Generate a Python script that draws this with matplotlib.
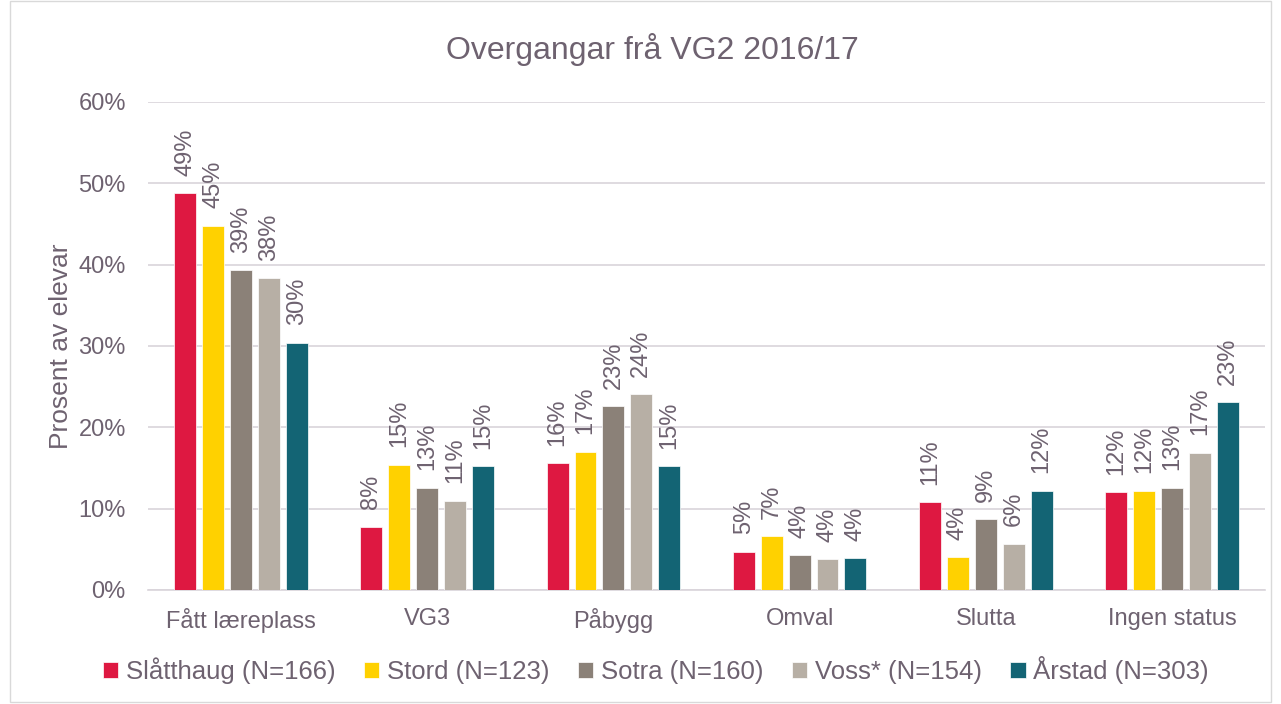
import matplotlib
matplotlib.use("Agg")
import matplotlib.pyplot as plt
import numpy as np
from matplotlib.patches import Rectangle

plt.rcParams['font.family'] = ['Liberation Sans', 'DejaVu Sans']

categories = ["Fått læreplass", "VG3", "Påbygg", "Omval", "Slutta", "Ingen status"]
series_names = ["Slåtthaug (N=166)", "Stord (N=123)", "Sotra (N=160)", "Voss* (N=154)", "Årstad (N=303)"]
slatthaug = [48.8, 7.8, 15.6, 4.7, 10.8, 12.0]
stord = [44.8, 15.4, 17.0, 6.6, 4.0, 12.2]
sotra = [39.3, 12.6, 22.6, 4.3, 8.7, 12.6]
voss = [38.3, 11.0, 24.1, 3.8, 5.7, 16.9]
arstad = [30.4, 15.2, 15.2, 3.9, 12.2, 23.1]
yticks = [0, 10, 20, 30, 40, 50, 60]
colors = ["#DE1841", "#FFD100", "#8B8178", "#B7AFA5", "#136474"]
text_color = "#6E6270"

series = [slatthaug, stord, sotra, voss, arstad]

fig = plt.figure(figsize=(12.81, 7.04), dpi=100)
ax = fig.add_axes([148/1281, 1-590/704, (1265-148)/1281, (590-102)/704])

x = np.arange(len(categories))
step = 0.15
width = 0.118
for i, (vals, col, name) in enumerate(zip(series, colors, series_names)):
    pos = x + (i - 2) * step
    ax.bar(pos, vals, width=width, color=col, label=name, zorder=3,
           edgecolor='white', linewidth=0.5)
    for p, v in zip(pos, vals):
        ax.annotate(f"{round(v):.0f}%", xy=(p, v), xytext=(0, 12.5), textcoords='offset points',
                    rotation=90, ha='center', va='bottom', fontsize=17, color=text_color)

ax.set_xlim(-0.5, len(categories) - 0.5)
ax.set_ylim(0, 60)
ax.set_yticks(yticks)
ax.set_yticklabels([f"{t}%" for t in yticks])
ax.set_xticks(x)
ax.set_xticklabels(categories)
ax.tick_params(axis='both', length=0, labelsize=17, colors=text_color)
ax.tick_params(axis='x', pad=13)
ax.tick_params(axis='y', pad=16)
ax.grid(axis='y', color='#D9D4DA', linewidth=1.2, zorder=0)
for s in ['top', 'right', 'left']:
    ax.spines[s].set_visible(False)
ax.spines['bottom'].set_color('#D9D4DA')
ax.spines['bottom'].set_linewidth(1.2)

ax.set_ylabel("Prosent av elevar", fontsize=19, color=text_color, labelpad=4)
fig.text(652/1281, 1-50/704, "Overgangar frå VG2 2016/17", ha='center', va='center',
         fontsize=23, color=text_color)

leg = fig.legend(loc='center', bbox_to_anchor=(656/1281, 1-670/704), ncol=5, frameon=False,
                 fontsize=18.5, handlelength=0.6, handleheight=0.6, handletextpad=0.3,
                 columnspacing=1.1)
for t in leg.get_texts():
    t.set_color(text_color)

fig.patches.append(Rectangle((10/1281, 0.003), 1 - 20/1281, 0.995, transform=fig.transFigure,
                             fill=False, edgecolor='#D9D9D9', linewidth=1))

fig.savefig("out.png", dpi=100)
